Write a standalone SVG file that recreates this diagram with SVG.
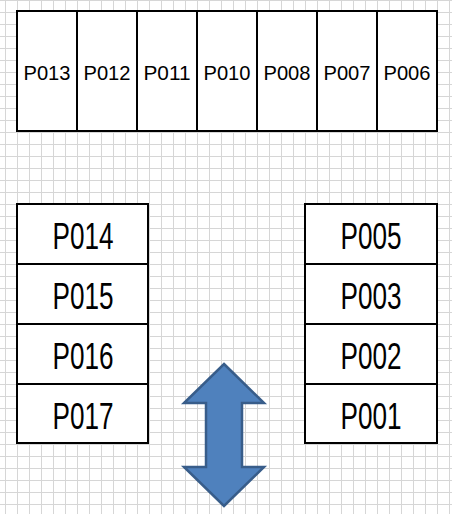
<svg xmlns="http://www.w3.org/2000/svg" width="452" height="514" viewBox="0 0 452 514">
<defs>
<pattern id="grid" x="5" y="0" width="12" height="12" patternUnits="userSpaceOnUse">
<path d="M0.5 0V12M0 0.5H12" stroke="#d6d6d6" stroke-width="1" fill="none"/>
</pattern>
<style>
.box{fill:#fff;stroke:#000;stroke-width:2}
.sm{font-family:"Liberation Sans",Arial,sans-serif;font-size:20px;text-anchor:middle;fill:#000}
.lg{font-family:"Liberation Sans",Arial,sans-serif;font-size:36px;text-anchor:middle;fill:#000}
</style>
</defs>
<rect width="452" height="514" fill="#fff"/>
<rect width="452" height="514" fill="url(#grid)"/>
<g id="top">
<rect class="box" x="17" y="11" width="420" height="120"/>
<path d="M77 11V131M137 11V131M197 11V131M257 11V131M317 11V131M377 11V131" stroke="#000" stroke-width="2"/>
</g>
<g id="P013"><text class="sm" x="47" y="79.5" textLength="47" lengthAdjust="spacingAndGlyphs">P013</text></g>
<g id="P012"><text class="sm" x="107" y="79.5" textLength="47" lengthAdjust="spacingAndGlyphs">P012</text></g>
<g id="P011"><text class="sm" x="167" y="79.5" textLength="47" lengthAdjust="spacingAndGlyphs">P011</text></g>
<g id="P010"><text class="sm" x="227" y="79.5" textLength="47" lengthAdjust="spacingAndGlyphs">P010</text></g>
<g id="P008"><text class="sm" x="287" y="79.5" textLength="47" lengthAdjust="spacingAndGlyphs">P008</text></g>
<g id="P007"><text class="sm" x="347" y="79.5" textLength="47" lengthAdjust="spacingAndGlyphs">P007</text></g>
<g id="P006"><text class="sm" x="407" y="79.5" textLength="47" lengthAdjust="spacingAndGlyphs">P006</text></g>
<g id="P014"><rect class="box" x="17" y="204" width="131" height="60"/><text class="lg" x="83" y="249" textLength="61" lengthAdjust="spacingAndGlyphs">P014</text></g>
<g id="P015"><rect class="box" x="17" y="264" width="131" height="60"/><text class="lg" x="83" y="309" textLength="61" lengthAdjust="spacingAndGlyphs">P015</text></g>
<g id="P016"><rect class="box" x="17" y="324" width="131" height="60"/><text class="lg" x="83" y="369" textLength="61" lengthAdjust="spacingAndGlyphs">P016</text></g>
<g id="P017"><rect class="box" x="17" y="384" width="131" height="59"/><text class="lg" x="83" y="429" textLength="61" lengthAdjust="spacingAndGlyphs">P017</text></g>
<g id="P005"><rect class="box" x="305" y="204" width="132" height="60"/><text class="lg" x="371" y="249" textLength="61" lengthAdjust="spacingAndGlyphs">P005</text></g>
<g id="P003"><rect class="box" x="305" y="264" width="132" height="60"/><text class="lg" x="371" y="309" textLength="61" lengthAdjust="spacingAndGlyphs">P003</text></g>
<g id="P002"><rect class="box" x="305" y="324" width="132" height="60"/><text class="lg" x="371" y="369" textLength="61" lengthAdjust="spacingAndGlyphs">P002</text></g>
<g id="P001"><rect class="box" x="305" y="384" width="132" height="59"/><text class="lg" x="371" y="429" textLength="61" lengthAdjust="spacingAndGlyphs">P001</text></g>
<g id="arrow">
<path d="M224 364L264 403H242V467H264L224 506L184 467H206V403H184Z" fill="#4f81bd" stroke="#385d8a" stroke-width="2.5" stroke-linejoin="miter"/>
</g>
</svg>
